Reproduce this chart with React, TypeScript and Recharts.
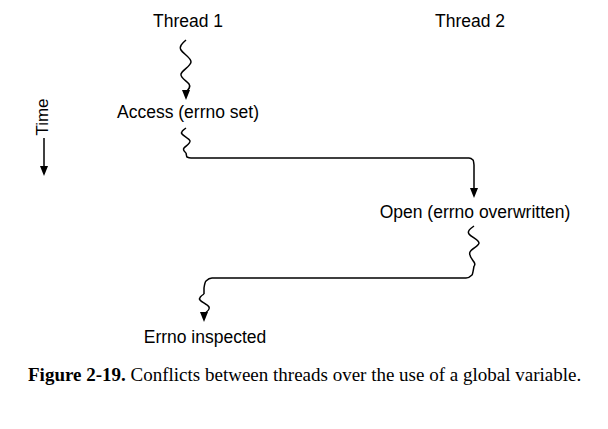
import { LineChart, Line, Scatter, XAxis, YAxis } from 'recharts'

// diagram coordinates (x, y in pixels, y grows downward)
const labels = [
  { x: 188, y: 22, text: 'Thread 1' },
  { x: 470, y: 22, text: 'Thread 2' },
  { x: 188, y: 113, text: 'Access (errno set)' },
  { x: 475, y: 213, text: 'Open (errno overwritten)' },
  { x: 205, y: 338, text: 'Errno inspected' },
]
const timeLabel = [{ x: 44, y: 117, text: 'Time' }]
const caption = [{ x: 28, y: 381 }]

const squiggle1 = [
  { x: 186, y: 40 }, { x: 181, y: 50 }, { x: 191, y: 62 }, { x: 181, y: 74 }, { x: 189, y: 84 }, { x: 186, y: 92 },
]
const squiggle2 = [
  { x: 186, y: 128 }, { x: 182, y: 134 }, { x: 190, y: 141 }, { x: 184, y: 148 }, { x: 186, y: 153 },
]
const connector1 = [
  { x: 186, y: 153 }, { x: 187, y: 157 }, { x: 191, y: 158 }, { x: 469, y: 158 }, { x: 473, y: 160 }, { x: 474, y: 165 }, { x: 474, y: 190 },
]
const squiggle3 = [
  { x: 474, y: 226 }, { x: 469, y: 234 }, { x: 479, y: 243 }, { x: 470, y: 252 }, { x: 474, y: 262 }, { x: 474, y: 266 },
]
const connector2 = [
  { x: 474, y: 266 }, { x: 472, y: 275 }, { x: 466, y: 278 }, { x: 212, y: 278 }, { x: 206, y: 281 }, { x: 204, y: 288 }, { x: 204, y: 294 },
]
const squiggle4 = [
  { x: 204, y: 294 }, { x: 200, y: 300 }, { x: 209, y: 307 }, { x: 204, y: 314 },
]
const timeLine = [{ x: 44, y: 138 }, { x: 44, y: 168 }]
const arrowTips = [
  { x: 186, y: 100 }, { x: 474, y: 198 }, { x: 204, y: 322 }, { x: 44, y: 176 },
]

const sans = '"Liberation Sans", Arial, sans-serif'

const Arrow = (props) => {
  const { cx, cy } = props
  return <polygon points={`${cx - 4},${cy - 10} ${cx + 4},${cy - 10} ${cx},${cy}`} fill="#000" />
}

const Label = (props) => (
  <text x={props.cx} y={props.cy} textAnchor="middle" dominantBaseline="middle" fontFamily={sans} fontSize={17.5}>
    {props.payload.text}
  </text>
)

const TimeLabel = (props) => (
  <text
    x={props.cx}
    y={props.cy}
    textAnchor="middle"
    dominantBaseline="middle"
    fontFamily={sans}
    fontSize={17}
    transform={`rotate(-90 ${props.cx} ${props.cy})`}
  >
    {props.payload.text}
  </text>
)

const Caption = (props) => (
  <text x={props.cx} y={props.cy} fontFamily='"Liberation Serif", "Times New Roman", serif' fontSize={19}>
    <tspan fontWeight="bold">Figure 2-19.</tspan>
    <tspan>{'  Conflicts between threads over the use of a global variable.'}</tspan>
  </text>
)

const lineProps = { dataKey: 'y', stroke: '#000', strokeWidth: 1.5, dot: false, isAnimationActive: false }

export default function App() {
  return (
    <div style={{ margin: -8, background: '#fff', width: 608, height: 429 }}>
      <LineChart width={608} height={429} margin={{ top: 0, right: 0, bottom: 0, left: 0 }}>
        <XAxis dataKey="x" type="number" domain={[0, 608]} hide />
        <YAxis dataKey="y" type="number" domain={[0, 429]} reversed hide />
        <Line data={squiggle1} type="natural" {...lineProps} />
        <Line data={squiggle2} type="natural" {...lineProps} />
        <Line data={connector1} type="monotone" {...lineProps} />
        <Line data={squiggle3} type="natural" {...lineProps} />
        <Line data={connector2} type="monotone" {...lineProps} />
        <Line data={squiggle4} type="natural" {...lineProps} />
        <Line data={timeLine} type="linear" {...lineProps} />
        <Scatter data={arrowTips} dataKey="y" shape={Arrow} isAnimationActive={false} />
        <Scatter data={labels} dataKey="y" shape={Label} isAnimationActive={false} />
        <Scatter data={timeLabel} dataKey="y" shape={TimeLabel} isAnimationActive={false} />
        <Scatter data={caption} dataKey="y" shape={Caption} isAnimationActive={false} />
      </LineChart>
    </div>
  )
}
